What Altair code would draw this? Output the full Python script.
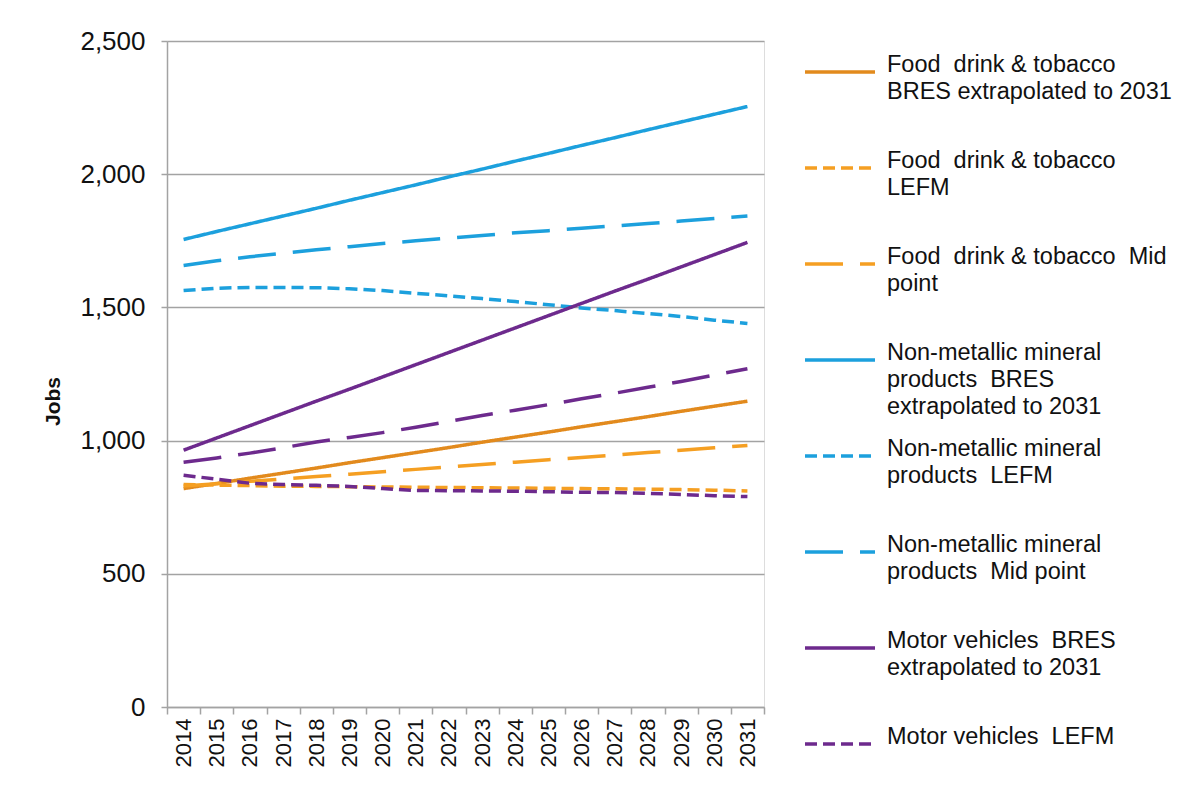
import altair as alt
import pandas as pd

years = [str(y) for y in range(2014, 2032)]

food_bres = [820, 839, 859, 878, 897, 917, 936, 955, 974, 994, 1013, 1032, 1052, 1071, 1090, 1110, 1129, 1148]
food_lefm = [835, 833, 831, 829, 828, 827, 826, 825, 824, 823, 822, 821, 820, 819, 818, 816, 814, 811]
food_mid = [830, 838, 847, 856, 865, 874, 883, 892, 901, 910, 919, 928, 937, 946, 955, 964, 973, 982]
nm_bres = [1755, 1785, 1814, 1843, 1872, 1902, 1931, 1960, 1990, 2019, 2049, 2078, 2108, 2137, 2167, 2196, 2225, 2254]
nm_lefm = [1563, 1572, 1575, 1575, 1574, 1570, 1563, 1553, 1543, 1533, 1522, 1510, 1498, 1488, 1477, 1466, 1452, 1440]
nm_mid = [1657, 1675, 1690, 1703, 1716, 1728, 1740, 1750, 1760, 1770, 1780, 1788, 1797, 1806, 1815, 1824, 1834, 1843]
mv_bres = [964, 1010, 1056, 1102, 1148, 1193, 1239, 1285, 1331, 1377, 1423, 1469, 1515, 1561, 1606, 1652, 1698, 1744]
mv_lefm = [870, 855, 840, 835, 832, 828, 820, 813, 812, 811, 810, 808, 806, 805, 802, 798, 793, 790]
mv_mid = [919, 935, 953, 973, 995, 1012, 1030, 1050, 1072, 1094, 1114, 1135, 1157, 1178, 1200, 1222, 1246, 1270]

series_names = [
    "Food\u00a0 drink & tobacco|BRES extrapolated to 2031",
    "Food\u00a0 drink & tobacco|LEFM",
    "Food\u00a0 drink & tobacco\u00a0 Mid|point",
    "Non-metallic mineral|products\u00a0 BRES|extrapolated to 2031",
    "Non-metallic mineral|products\u00a0 LEFM",
    "Non-metallic mineral|products\u00a0 Mid point",
    "Motor vehicles\u00a0 BRES|extrapolated to 2031",
    "Motor vehicles\u00a0 LEFM",
    "Motor vehicles\u00a0 Mid point",
]
series_values = [food_bres, food_lefm, food_mid, nm_bres, nm_lefm, nm_mid, mv_bres, mv_lefm, mv_mid]
series_colors = ["#E28A1D", "#F59F22", "#F59F22",
                 "#1CA0DD", "#1CA0DD", "#1CA0DD",
                 "#6D2A8D", "#6D2A8D", "#6D2A8D"]
solid = [1, 0]
short_dash = [12, 6]
long_dash = [38, 17]
series_dashes = [solid, short_dash, long_dash] * 3
legend_names = series_names[:8]
y_ticks = [0, 500, 1000, 1500, 2000, 2500]

rows = []
for name, vals in zip(series_names, series_values):
    for yr, v in zip(years, vals):
        rows.append({"year": yr, "series": name, "jobs": v})
df = pd.DataFrame(rows)

FONT = "Liberation Sans"
GRAY = "#A3A3A3"

legend = alt.Legend(
    title=None, values=legend_names, orient="none", legendX=636, legendY=-6,
    symbolType="stroke", symbolSize=4900, symbolStrokeWidth=3.5,
    labelFont=FONT, labelFontSize=23.5, labelColor="#111111", labelLimit=600,
    labelOffset=10, labelBaseline="alphabetic", rowPadding=0, gridAlign="all",
    labelExpr="split(datum.label, '|')", padding=0,
)

chart = alt.Chart(df).mark_line(strokeWidth=3.5).encode(
    x=alt.X("year:O", bandPosition=0.5,
            scale=alt.Scale(type="band", paddingInner=0, paddingOuter=0),
            axis=alt.Axis(title=None, labelAngle=270, tickBand="extent", grid=False,
                          labelFont=FONT, labelFontSize=22, labelColor="#111111",
                          labelPadding=4, tickSize=7, tickColor=GRAY, tickWidth=1.5,
                          domainColor=GRAY, domainWidth=1.5)),
    y=alt.Y("jobs:Q", scale=alt.Scale(domain=[0, 2500]),
            axis=alt.Axis(values=y_ticks, format=",d",
                          title="Jobs", titleFont=FONT, titleFontSize=21,
                          titleFontWeight="bold", titleColor="#111111", titlePadding=16,
                          titleY=360,
                          labelFont=FONT, labelFontSize=26, labelColor="#111111",
                          labelPadding=16, tickSize=6, tickColor=GRAY, tickWidth=1.5,
                          domainColor=GRAY, domainWidth=1.5,
                          gridColor=GRAY, gridWidth=1.5)),
    color=alt.Color("series:N", sort=series_names,
                    scale=alt.Scale(domain=series_names, range=series_colors), legend=legend),
    strokeDash=alt.StrokeDash("series:N", sort=series_names,
                              scale=alt.Scale(domain=series_names, range=series_dashes), legend=legend),
).properties(
    width=597, height=666,
    padding={"left": 34, "top": 20, "right": 10, "bottom": 5},
).configure_view(stroke="transparent").configure(
    style={"guide-label": {"lineHeight": 26.8}}
)

chart.save("out.html", embed_options={"renderer": "svg", "actions": False})
